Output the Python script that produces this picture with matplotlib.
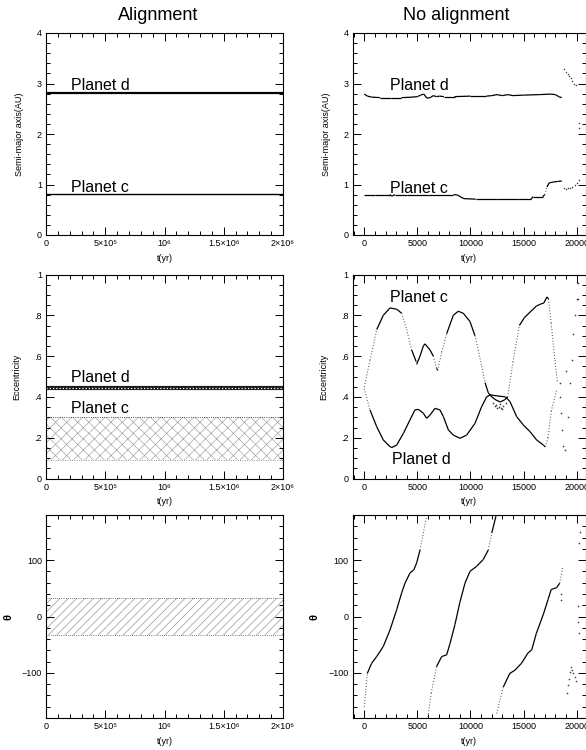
import numpy as np
import matplotlib
matplotlib.use("Agg")
import matplotlib.pyplot as plt
from matplotlib.ticker import FixedLocator, MultipleLocator
from matplotlib.collections import LineCollection

plt.rcParams['font.family'] = ['Liberation Sans', 'DejaVu Sans']
plt.rcParams['hatch.linewidth'] = 0.45

# ---------------- alignment case (left column), t in yr ----------------
al_t = [0, 2.0e6]
al_a_d = [2.82, 2.82]
al_a_c = [0.81, 0.81]
al_e_d = [0.445, 0.445]
al_ec_lo, al_ec_hi = 0.09, 0.30
al_th_lo, al_th_hi = -32, 32

# ---------------- no alignment case (right column) ----------------
na_ad_t = [0, 300, 700, 1500, 2500, 3500, 4500, 5000, 5300, 5600, 5900, 6200, 6500,
           6800, 7100, 7500, 8500, 10000, 11500, 12000, 12500, 13000, 13500, 14000,
           15000, 16500, 17500, 18000, 18300, 18600]
na_ad = [2.79, 2.75, 2.73, 2.72, 2.72, 2.72, 2.73, 2.74, 2.77, 2.79, 2.71, 2.72, 2.76,
         2.74, 2.75, 2.74, 2.74, 2.75, 2.75, 2.76, 2.78, 2.76, 2.78, 2.76,
         2.77, 2.78, 2.79, 2.78, 2.74, 2.72]
na_ac_t = [0, 1000, 2400, 2600, 2900, 4000, 6000, 8400, 8800, 9100, 9400, 10500, 12500,
           14500, 15700, 15900, 16800, 17000, 17200, 17400, 17800, 18200, 18600]
na_ac = [0.80, 0.80, 0.80, 0.77, 0.80, 0.80, 0.80, 0.80, 0.79, 0.75, 0.72, 0.71, 0.71,
         0.71, 0.71, 0.76, 0.76, 0.80, 0.95, 1.03, 1.05, 1.06, 1.07]
na_scat_a_t = [18850, 19000, 19150, 19300, 19450, 19600, 19750, 19900, 20200, 20250,
               18800, 19000, 19200, 19400, 19600, 19800, 20000, 20200]
na_scat_a = [3.28, 3.22, 3.18, 3.15, 3.10, 3.05, 3.00, 2.98, 2.22, 2.12,
             0.93, 0.92, 0.93, 0.94, 0.96, 0.99, 1.02, 1.08]

na_ec_t = [0, 540, 1170, 1790, 2420, 3050, 3520, 3990, 4460, 4870, 4930, 5250, 5560,
           5710, 6190, 6500, 6810, 6910, 7290, 7760, 8380, 8850, 9320, 9950, 10420,
           10730, 11050, 11370, 11680, 12000, 12400, 12800, 13200, 13500, 14000, 14600,
           15100, 15700, 16200, 16600, 16900, 17200, 17350, 17600, 17950, 18200]
na_ec = [0.45, 0.58, 0.73, 0.80, 0.836, 0.83, 0.81, 0.73, 0.63, 0.575, 0.56, 0.60, 0.65,
         0.66, 0.63, 0.60, 0.54, 0.53, 0.62, 0.71, 0.80, 0.82, 0.81, 0.77, 0.70,
         0.63, 0.55, 0.47, 0.42, 0.40, 0.385, 0.375, 0.385, 0.40, 0.57, 0.75,
         0.79, 0.82, 0.845, 0.855, 0.86, 0.89, 0.88, 0.76, 0.58, 0.47]
na_ed_t = [0, 540, 1170, 1790, 2420, 2600, 3050, 3680, 4300, 4770, 5090, 5560, 5870,
           6190, 6660, 7130, 7450, 7920, 8380, 9010, 9640, 10420, 11050, 11520, 11840,
           12500, 13300, 13720, 14350, 14980, 15600, 16230, 16860, 17050, 17300, 17600,
           18100]
na_ed = [0.44, 0.336, 0.254, 0.189, 0.156, 0.152, 0.164, 0.221, 0.287, 0.336, 0.339,
         0.32, 0.295, 0.311, 0.344, 0.336, 0.303, 0.238, 0.213, 0.197, 0.213, 0.27,
         0.352, 0.40, 0.41, 0.405, 0.40, 0.377, 0.303, 0.262, 0.23, 0.189, 0.164,
         0.155, 0.20, 0.33, 0.43]
na_scat_e_t = [12100, 12300, 12500, 12700, 12900, 13100, 13300, 12400, 12800, 13000,
               18400, 19000, 18450, 18550, 18650, 18750, 18900, 19150, 19400, 19550,
               19700, 19850, 20000, 20100, 20150]
na_scat_e = [0.37, 0.355, 0.345, 0.35, 0.345, 0.355, 0.37, 0.36, 0.365, 0.34,
             0.47, 0.525, 0.40, 0.32, 0.24, 0.16, 0.14, 0.30, 0.47, 0.58,
             0.71, 0.80, 0.88, 0.96, 0.88]

na_th1_t = [0, 150, 280, 690, 1170, 1790, 2420, 3050, 3520, 3830, 4300, 4670, 4930,
            5250, 5560, 5870]
na_th1 = [-160, -130, -101, -83, -71, -53, -24, 12, 42, 59, 77, 83, 95, 118, 148, 178]
na_th2_t = [6000, 6300, 6800, 7290, 7760, 8070, 8540, 9000, 9480, 9950, 10580, 11200,
            11680, 12000, 12400]
na_th2 = [-178, -136, -89, -71, -68, -48, -14, 25, 59, 80, 89, 101, 118, 148, 178]
na_th3_t = [12470, 13090, 13700, 14200, 14800, 15400, 15770, 16200, 16900, 17300,
            17600, 18100, 18400, 18700]
na_th3 = [-172, -125, -101, -95, -83, -65, -59, -30, 6, 30, 48, 51, 59, 89]
na_scat_th_t = [18500, 18550, 19060, 19150, 19250, 19350, 19430, 19550, 19650, 19800,
                19930, 20100, 20150, 20200, 20250, 20300]
na_scat_th = [40, 30, -136, -122, -110, -98, -89, -94, -100, -108,
              -115, 18, -10, -30, 130, 150]

FIG_W, FIG_H = 586, 750
fig = plt.figure(figsize=(FIG_W / 100, FIG_H / 100), dpi=100)


def make_axes(x0, y_top, w, h):
    return fig.add_axes([x0 / FIG_W, 1 - (y_top + h) / FIG_H, w / FIG_W, h / FIG_H])


def style(ax):
    ax.tick_params(which='both', direction='in', top=True, right=True,
                   labelsize=6.5, width=0.7, pad=3)
    ax.tick_params(which='major', length=6)
    ax.tick_params(which='minor', length=3)
    for s in ax.spines.values():
        s.set_linewidth(0.8)


def draw_track(ax, t, y, steep=3.2):
    # dense samples look solid, fast changes look dotted
    t = np.asarray(t, float)
    y = np.asarray(y, float)
    pts = ax.transData.transform(np.column_stack([t, y]))
    d = np.diff(pts, axis=0)
    slope = np.abs(d[:, 1]) / np.maximum(np.abs(d[:, 0]), 1e-6)
    segs = np.stack([np.column_stack([t[:-1], y[:-1]]),
                     np.column_stack([t[1:], y[1:]])], axis=1)
    solid = slope < steep
    ax.add_collection(LineCollection(segs[solid], colors='black', linewidths=0.9))
    ax.add_collection(LineCollection(segs[~solid], colors='0.3', linewidths=0.8,
                                     linestyles=[(0, (0.8, 1.8))]))


LX, RX, W = 46, 352.7, 237
RW = 232.8
ROWS = [(33, 202), (274.5, 204), (515, 203)]

left = [make_axes(LX, y, W, h) for y, h in ROWS]
right = [make_axes(RX, y, RW, h) for y, h in ROWS]

for ax in left:
    ax.set_xlim(0, 2.0e6)
    ax.xaxis.set_major_locator(FixedLocator([0, 5e5, 1e6, 1.5e6, 2e6]))
    ax.set_xticklabels(['0', '5×10⁵', '10⁶', '1.5×10⁶', '2×10⁶'])
    ax.xaxis.set_minor_locator(MultipleLocator(1e5))
for ax in right:
    ax.set_xlim(-1090, 20830)
    ax.xaxis.set_major_locator(FixedLocator([0, 5000, 10000, 15000, 20000]))
    ax.set_xticklabels(['0', '5000', '10000', '15000', '20000'])
    ax.xaxis.set_minor_locator(MultipleLocator(1000))

for ax in (left[0], right[0]):
    ax.set_ylim(0, 4)
    ax.yaxis.set_major_locator(MultipleLocator(1))
    ax.yaxis.set_minor_locator(MultipleLocator(0.2))
    ax.set_ylabel('Semi-major axis(AU)', fontsize=6.5, labelpad=9)
for ax in (left[1], right[1]):
    ax.set_ylim(0, 1)
    ax.yaxis.set_major_locator(FixedLocator([0, 0.2, 0.4, 0.6, 0.8, 1.0]))
    ax.set_yticklabels(['0', '.2', '.4', '.6', '.8', '1'])
    ax.yaxis.set_minor_locator(MultipleLocator(0.05))
    ax.set_ylabel('Eccentricity', fontsize=6.5, labelpad=9)
for ax in (left[2], right[2]):
    ax.set_ylim(-180, 180)
    ax.yaxis.set_major_locator(FixedLocator([-100, 0, 100]))
    ax.yaxis.set_minor_locator(MultipleLocator(20))
    ax.set_ylabel('θ', fontsize=8, fontweight='bold', labelpad=6)

for ax in left + right:
    style(ax)
    ax.set_xlabel('t(yr)', fontsize=6.5, labelpad=4)

lab = dict(fontsize=11.5)

# ---- left column
ax = left[0]
ax.plot(al_t, al_a_d, color='black', lw=1.6)
ax.plot(al_t, al_a_c, color='black', lw=1.0)
ax.text(2.08e5, 2.88, 'Planet d', **lab)
ax.text(2.08e5, 0.85, 'Planet c', **lab)

ax = left[1]
ax.fill_between(al_t, [al_ec_lo] * 2, [al_ec_hi] * 2, facecolor='none',
                edgecolor='0.62', hatch='xxx', linewidth=0)
ax.plot(al_t, [al_ec_hi] * 2, color='0.3', lw=0.8, ls=(0, (0.8, 1.2)))
ax.plot(al_t, [al_ec_lo] * 2, color='0.5', lw=0.7, ls=(0, (0.8, 1.6)))
ax.plot(al_t, al_e_d, color='0.1', lw=3.0)
ax.plot(al_t, al_e_d, color='white', lw=0.9, ls=(0, (1.0, 1.6)))
ax.text(2.08e5, 0.475, 'Planet d', **lab)
ax.text(2.08e5, 0.32, 'Planet c', **lab)

ax = left[2]
ax.fill_between(al_t, [al_th_lo] * 2, [al_th_hi] * 2, facecolor='none',
                edgecolor='0.55', hatch='////', linewidth=0)
ax.plot(al_t, [al_th_hi] * 2, color='0.35', lw=0.7, ls=(0, (0.8, 1.4)))
ax.plot(al_t, [al_th_lo] * 2, color='0.35', lw=0.7, ls=(0, (0.8, 1.4)))

# ---- right column
ax = right[0]
draw_track(ax, na_ad_t, na_ad)
draw_track(ax, na_ac_t, na_ac)
ax.scatter(na_scat_a_t, na_scat_a, s=1.2, color='0.25', linewidths=0)
ax.text(2420, 2.88, 'Planet d', **lab)
ax.text(2420, 0.84, 'Planet c', **lab)

ax = right[1]
draw_track(ax, na_ec_t, na_ec)
draw_track(ax, na_ed_t, na_ed)
ax.scatter(na_scat_e_t, na_scat_e, s=1.5, color='0.25', linewidths=0)
ax.text(2420, 0.864, 'Planet c', **lab)
ax.text(2650, 0.069, 'Planet d', **lab)

ax = right[2]
draw_track(ax, na_th1_t, na_th1, steep=4.6)
draw_track(ax, na_th2_t, na_th2, steep=4.85)
draw_track(ax, na_th3_t, na_th3, steep=3.8)
ax.scatter(na_scat_th_t, na_scat_th, s=1.5, color='0.3', linewidths=0)

fig.text(158 / FIG_W, 1 - 15 / FIG_H, 'Alignment', fontsize=13, ha='center', va='center')
fig.text(456 / FIG_W, 1 - 15 / FIG_H, 'No alignment', fontsize=13, ha='center', va='center')

fig.savefig('out.png', dpi=100)
